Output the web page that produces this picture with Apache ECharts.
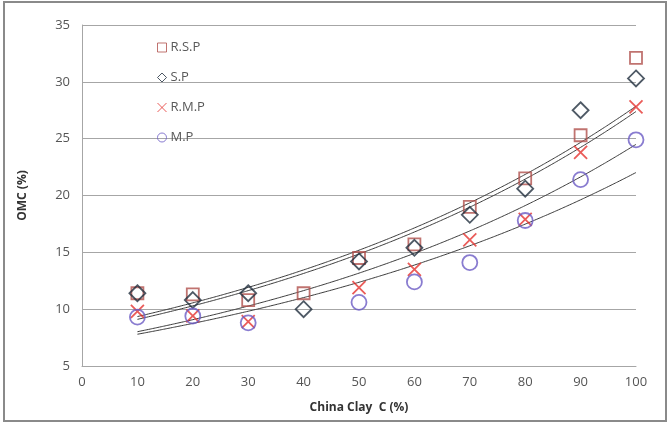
<!DOCTYPE html>
<html>
<head>
<meta charset="utf-8">
<script src="https://cdn.jsdelivr.net/npm/echarts@6/dist/echarts.min.js"></script>
<style>
  html, body { margin: 0; padding: 0; background: #fff; }
  #chart { width: 669px; height: 425px; }
</style>
</head>
<body>
<div id="chart"></div>
<script>
// China clay content (%) on the x axis
var clay = [10, 20, 30, 40, 50, 60, 70, 80, 90, 100];
// Optimum moisture content (%) per mix
var rsp = [11.4, 11.3, 10.8, 11.4, 14.5, 15.7, 19.0, 21.5, 25.3, 32.1];
var sp  = [11.4, 10.8, 11.4, 10.0, 14.2, 15.4, 18.3, 20.6, 27.5, 30.3];
var rmp = [9.8, 9.4, 8.9, null, 11.9, 13.5, 16.1, 17.9, 23.8, 27.8];
var mp  = [9.3, 9.4, 8.8, null, 10.6, 12.4, 14.1, 17.8, 21.4, 24.9];
var seriesNames = ['R.S.P', 'S.P', 'R.M.P', 'M.P'];
var yTicks = [5, 10, 15, 20, 25, 30, 35];
var xTicks = [0, 10, 20, 30, 40, 50, 60, 70, 80, 90, 100];

function pairs(ys) {
  var out = [];
  for (var i = 0; i < clay.length; i++) {
    if (ys[i] != null) out.push([clay[i], ys[i]]);
  }
  return out;
}

// Exponential least-squares trendline y = a*e^(b*x), fitted on ln(y)
function expTrend(ys) {
  var pts = pairs(ys);
  var n = pts.length, sx = 0, sl = 0;
  pts.forEach(function (p) { sx += p[0]; sl += Math.log(p[1]); });
  var mx = sx / n, ml = sl / n, sxx = 0, sxl = 0;
  pts.forEach(function (p) {
    sxx += (p[0] - mx) * (p[0] - mx);
    sxl += (p[0] - mx) * (Math.log(p[1]) - ml);
  });
  var b = sxl / sxx, lnA = ml - b * mx;
  var x0 = pts[0][0], x1 = pts[n - 1][0];
  var line = [];
  for (var x = x0; x <= x1; x += 1) line.push([x, Math.exp(lnA + b * x)]);
  return line;
}

var fontFam = '"Open Sans", "Noto Sans", sans-serif';
var markerStyles = [
  { symbol: 'rect', size: 12, color: '#b0504c' },
  { symbol: 'diamond', size: 16, color: '#22303f' },
  { symbol: 'path://M0,0L10,10M10,0L0,10', size: 13, color: '#e5332f' },
  { symbol: 'circle', size: 15, color: '#6b5bc4' }
];
var values = [rsp, sp, rmp, mp];

var series = [];
values.forEach(function (ys, i) {
  series.push({
    name: seriesNames[i] + ' fit',
    type: 'line',
    data: expTrend(ys),
    showSymbol: false,
    silent: true,
    smooth: true,
    lineStyle: { color: '#3a3a3a', width: 1 },
    z: 1
  });
});
values.forEach(function (ys, i) {
  var m = markerStyles[i];
  series.push({
    name: seriesNames[i],
    type: 'scatter',
    data: pairs(ys),
    symbol: m.symbol,
    symbolSize: m.size,
    itemStyle: { color: 'rgba(255,255,255,0)', borderColor: m.color, borderWidth: 1.8 },
    z: 3
  });
});

var chart = echarts.init(document.getElementById('chart'));
chart.setOption({
  animation: false,
  backgroundColor: '#fff',
  graphic: [{
    type: 'rect',
    shape: { x: 4, y: 2, width: 662, height: 419 },
    style: { fill: 'none', stroke: '#8a8a8a', lineWidth: 2 },
    silent: true,
    z: -1
  }],
  grid: { left: 82, right: 33, top: 25, bottom: 59 },
  legend: {
    orient: 'vertical',
    left: 152,
    top: 36,
    itemWidth: 9,
    itemHeight: 9,
    itemGap: 17,
    data: seriesNames.map(function (n, i) {
      return { name: n, icon: markerStyles[i].symbol,
        itemStyle: { color: 'rgba(255,255,255,0)', borderColor: markerStyles[i].color, borderWidth: 1 } };
    }),
    textStyle: { color: '#595959', fontSize: 13, fontFamily: fontFam, padding: [0, 0, 0, -1] }
  },
  xAxis: {
    type: 'value',
    min: xTicks[0],
    max: xTicks[xTicks.length - 1],
    interval: 10,
    name: 'China Clay  C (%)',
    nameLocation: 'middle',
    nameGap: 36,
    nameTextStyle: { color: '#333', fontSize: 12, fontWeight: 'bold', fontFamily: fontFam },
    axisLine: { show: true, lineStyle: { color: '#a6a6a6', width: 1 } },
    axisTick: { show: false },
    splitLine: { show: false },
    axisLabel: { color: '#555', fontSize: 13, fontFamily: fontFam, margin: 10 }
  },
  yAxis: {
    type: 'value',
    min: yTicks[0],
    max: yTicks[yTicks.length - 1],
    interval: 5,
    name: 'OMC (%)',
    nameLocation: 'middle',
    nameGap: 53,
    nameTextStyle: { color: '#333', fontSize: 12, fontWeight: 'bold', fontFamily: fontFam },
    axisLine: { show: true, lineStyle: { color: '#a6a6a6', width: 1 } },
    axisTick: { show: false },
    splitLine: { show: true, lineStyle: { color: '#a6a6a6', width: 1 } },
    axisLabel: { color: '#555', fontSize: 13, fontFamily: fontFam, margin: 12 }
  },
  series: series
});
</script>
</body>
</html>
